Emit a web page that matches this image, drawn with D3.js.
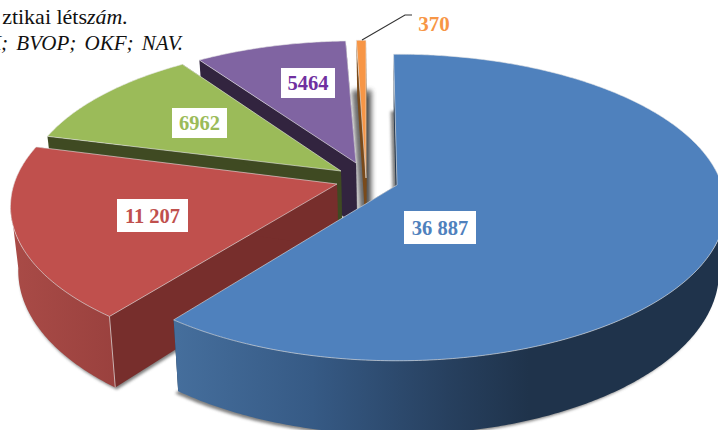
<!DOCTYPE html>
<html>
<head>
<meta charset="utf-8">
<script src="https://cdn.jsdelivr.net/npm/d3@7"></script>
<style>
  html, body { margin: 0; padding: 0; background: #fff; overflow: hidden; }
  svg { display: block; }
  text { font-family: "Liberation Serif", serif; }
</style>
</head>
<body>
<div id="chart"></div>
<script>
(function () {
  'use strict';

  var categories = ['blue', 'red', 'green', 'purple', 'orange'];
  var values = [36887, 11207, 6962, 5464, 370];
  var valueLabels = ['36 887', '11 207', '6962', '5464', '370'];
  var topColors = ['#4f81bd', '#c0504d', '#9bbb59', '#8064a2', '#f79646'];
  var faceColors = ['#1f334b', '#772e2c', '#3f4a22', '#32243f', '#7a4a1a'];

  var width = 718, height = 430;
  var persp = 0.1466;     // foreshortening of the pie plane
  var vanishX = 400;      // side walls lean toward this x
  var wallDepth = 63;
  var rad = Math.PI / 180;

  // exploded position, size and small turn (degrees) of each slice
  var geom = {
    blue:   { cx: 397, cy: 185, rx: 325, ry: 150, turn: -0.7 },
    red:    { cx: 337, cy: 184, rx: 323, ry: 150, turn: 0.5 },
    green:  { cx: 341, cy: 171, rx: 314, ry: 145, turn: 0 },
    purple: { cx: 356, cy: 163, rx: 310, ry: 140, turn: 0 },
    orange: { cx: 366, cy: 178, rx: 290, ry: 158, turn: 0 }
  };
  // centre of each white value box and its size
  var boxes = {
    blue:   { x: 440, y: 227.5, w: 72, h: 33 },
    red:    { x: 152.5, y: 215.5, w: 71, h: 33 },
    green:  { x: 199.5, y: 123, w: 55, h: 30 },
    purple: { x: 308, y: 83, w: 54, h: 30 }
  };

  var svg = d3.select('#chart').append('svg').attr('width', width).attr('height', height);
  var defs = svg.append('defs');

  defs.append('filter').attr('id', 'softShadow')
    .attr('x', '-20%').attr('y', '-20%').attr('width', '140%').attr('height', '140%')
    .append('feGaussianBlur').attr('stdDeviation', 1.6);
  defs.append('filter').attr('id', 'wideShadow')
    .attr('x', '-300%').attr('y', '-20%').attr('width', '700%').attr('height', '140%')
    .append('feGaussianBlur').attr('stdDeviation', 2.4);

  function rimGradient(id, x1, x2, stops) {
    var g = defs.append('linearGradient').attr('id', id)
      .attr('gradientUnits', 'userSpaceOnUse')
      .attr('x1', x1).attr('x2', x2).attr('y1', 0).attr('y2', 0);
    stops.forEach(function (s) {
      g.append('stop').attr('offset', s[0]).attr('stop-color', s[1]);
    });
  }
  rimGradient('rim-blue', 177, 718, [[0, '#456e9c'], [0.25, '#365a85'], [0.5, '#27405f'], [0.65, '#1f334b'], [1, '#1f334b']]);
  rimGradient('rim-red', 12, 116, [[0, '#a94b47'], [1, '#9a413e']]);

  var pie = d3.pie().sort(null).startAngle(0).endAngle(2 * Math.PI);
  var arcs = pie(values);

  function project(g, a, r) {
    var t = a + g.turn * rad;
    var u = r * Math.sin(t), v = r * Math.cos(t), w = 1 + persp * v;
    return { x: g.cx + g.rx * u / w, y: g.cy - g.ry * v / w, v: v };
  }
  function lower(p) {
    return {
      x: vanishX + (p.x - vanishX) * 0.98,
      y: p.y + wallDepth / (1 + persp * p.v)
    };
  }
  function rim(g, a0, a1) {
    var n = Math.max(2, Math.ceil((a1 - a0) / 0.01));
    return d3.range(n + 1).map(function (i) {
      return project(g, a0 + (a1 - a0) * i / n, 1);
    });
  }

  var path = d3.line().x(function (d) { return d.x; }).y(function (d) { return d.y; });
  function closed(pts) { return path(pts) + 'Z'; }

  // back to front
  var order = [4, 3, 2, 1, 0];

  // soft shadows under the slice floors
  var shadows = svg.append('g').attr('class', 'shadows');
  order.forEach(function (i) {
    var name = categories[i], g = geom[name], d = arcs[i];
    var pts = rim(g, d.startAngle, d.endAngle);
    var floor = [lower(project(g, 0, 0))].concat(pts.map(lower));
    shadows.append('path').attr('d', closed(floor))
      .attr('fill', '#555').attr('opacity', 0.75)
      .attr('transform', name === 'blue' ? 'translate(-3,2)' : 'translate(1.5,2)')
      .attr('filter', 'url(#softShadow)');
  });
  // the narrow slice throws a wider band on both sides
  (function () {
    var g = geom.orange, d = arcs[4];
    var floor = [lower(project(g, 0, 0))].concat(rim(g, d.startAngle, d.endAngle).map(lower));
    shadows.append('path').attr('d', closed(floor))
      .attr('fill', '#444').attr('stroke', '#444').attr('stroke-width', 10).attr('opacity', 0.8)
      .attr('filter', 'url(#wideShadow)');
  })();

  order.forEach(function (i) {
    var name = categories[i], g = geom[name], d = arcs[i];
    var group = svg.append('g').attr('class', 'slice ' + name);
    var apex = project(g, 0, 0);
    var pts = rim(g, d.startAngle, d.endAngle);
    var first = pts[0], last = pts[pts.length - 1];

    [first, last].forEach(function (p) {
      group.append('path').attr('d', closed([apex, p, lower(p), lower(apex)])).attr('fill', faceColors[i]);
    });
    // curved wall only where it faces the viewer
    var a0 = Math.max(d.startAngle, 98 * rad), a1 = Math.min(d.endAngle, 262 * rad);
    if (a1 > a0) {
      var front = rim(g, a0, a1);
      group.append('path')
        .attr('d', closed(front.concat(front.slice().reverse().map(lower))))
        .attr('fill', 'url(#rim-' + name + ')');
    }
    if (name === 'red') {
      // seam at the corner of the curved and flat walls
      group.append('path').attr('d', path([first, lower(first)]))
        .attr('stroke', '#d9c9c8').attr('stroke-width', 0.8).attr('fill', 'none');
    }
    group.append('path').attr('d', closed([apex].concat(pts)))
      .attr('fill', topColors[i])
      .attr('stroke', '#e6e6e6').attr('stroke-opacity', 0.75).attr('stroke-width', 0.8)
      .attr('stroke-linejoin', 'round');
  });

  // value boxes
  categories.forEach(function (name, i) {
    var b = boxes[name];
    if (!b) return;
    svg.append('rect').attr('x', b.x - b.w / 2).attr('y', b.y - b.h / 2)
      .attr('width', b.w).attr('height', b.h).attr('fill', '#fff');
    svg.append('text').attr('x', b.x).attr('y', b.y + 7)
      .attr('text-anchor', 'middle').attr('font-size', 20.5).attr('font-weight', 700)
      .attr('fill', topColors[i] === '#8064a2' ? '#7030a0' : topColors[i])
      .text(valueLabels[i]);
  });

  // leader of the small slice
  svg.append('path')
    .attr('d', path([{ x: 362, y: 40 }, { x: 405, y: 15 }, { x: 412, y: 15 }]))
    .attr('fill', 'none').attr('stroke', '#333').attr('stroke-width', 1.1);
  svg.append('text').attr('x', 434).attr('y', 31)
    .attr('text-anchor', 'middle').attr('font-size', 21).attr('font-weight', 700)
    .attr('fill', topColors[4]).text(valueLabels[4]);

  // note cut off by the picture's left edge
  var line1 = svg.append('text').attr('x', 128).attr('y', 24)
    .attr('text-anchor', 'end').attr('font-size', 22).attr('fill', '#111');
  line1.append('tspan').text('ztikai léts');
  line1.append('tspan').attr('font-style', 'italic').text('zám.');
  svg.append('text').attr('x', 183).attr('y', 50)
    .attr('text-anchor', 'end').attr('font-size', 21).attr('font-style', 'italic')
    .attr('fill', '#111').attr('word-spacing', 3)
    .text('K; BVOP; OKF; NAV.');
})();
</script>
</body>
</html>
